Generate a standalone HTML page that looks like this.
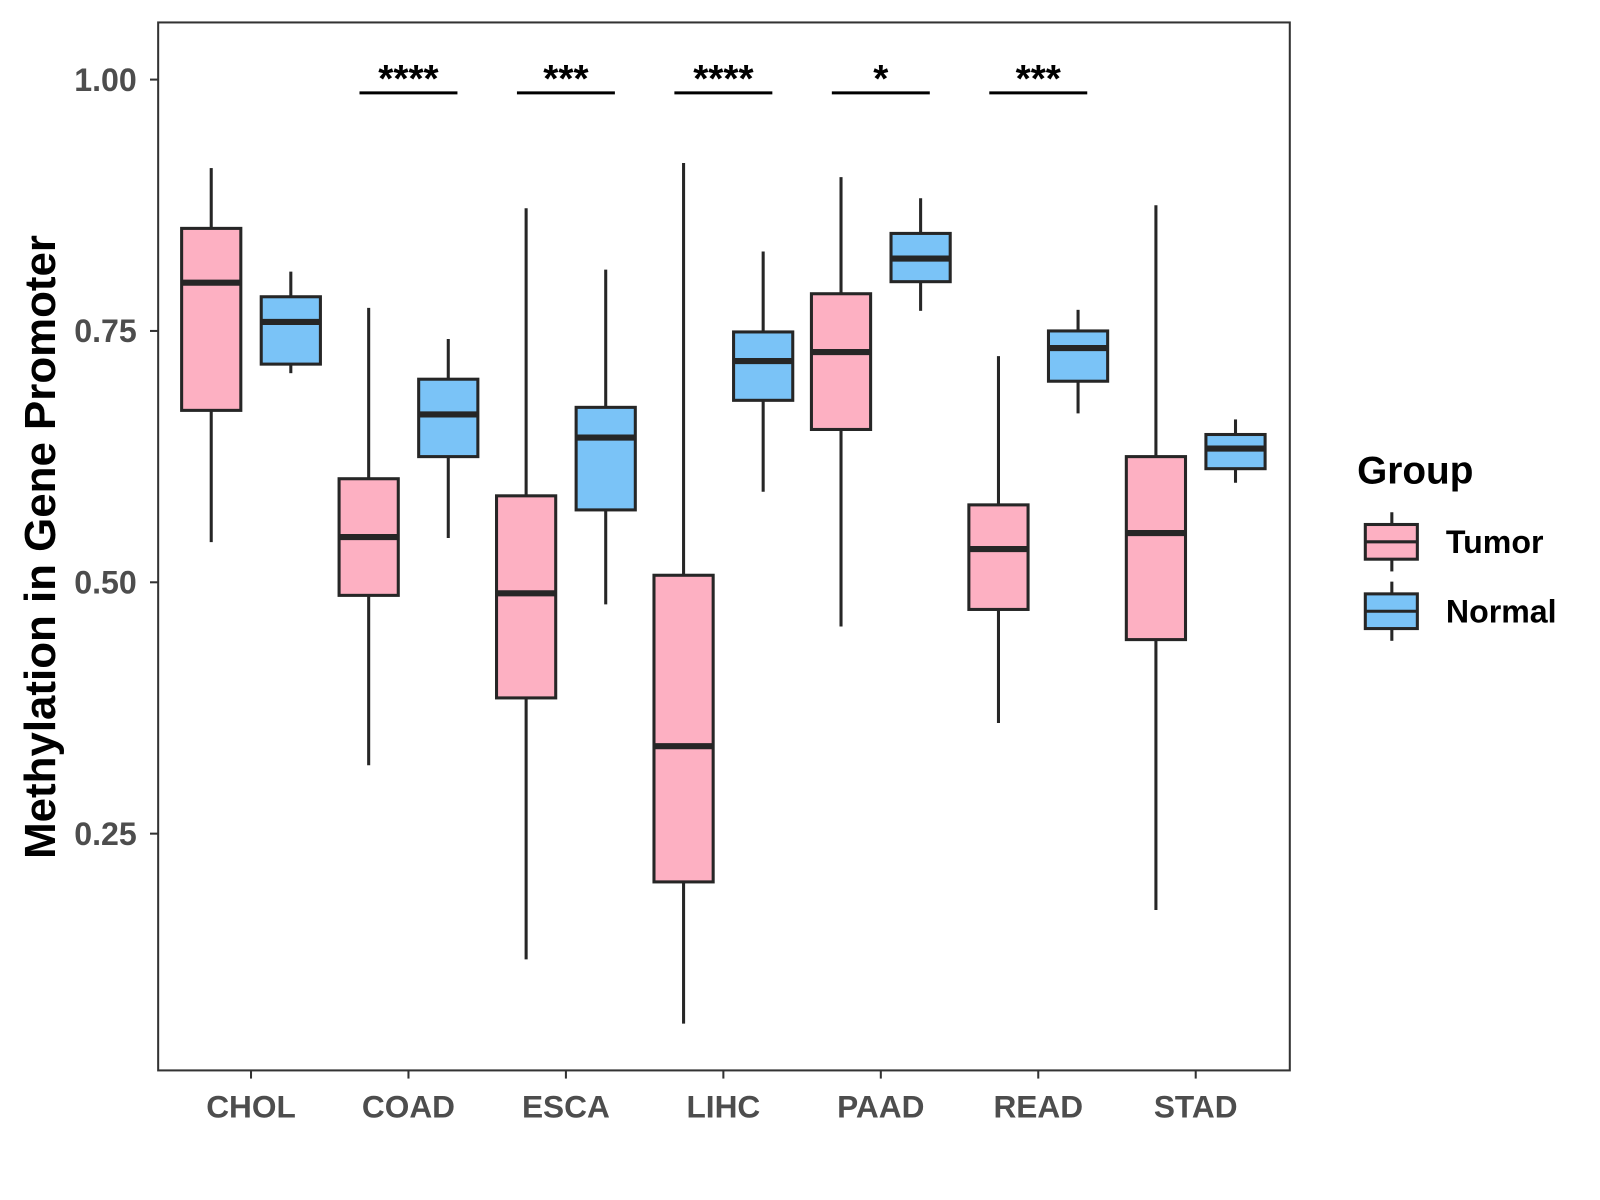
<!DOCTYPE html>
<html><head><meta charset="utf-8"><style>
html,body{margin:0;padding:0;background:#fff}
svg{display:block}
text{font-family:"Liberation Sans",Arial,sans-serif;font-weight:bold}
</style></head><body>
<svg id="chart" width="1600" height="1200" viewBox="0 0 1568 1176" xmlns="http://www.w3.org/2000/svg">
<rect x="155" y="22" width="1109" height="1027" fill="#fff" stroke="#333" stroke-width="2"/>
<g id="marks"></g>
<text transform="translate(54,536) rotate(-90)" text-anchor="middle" font-size="43" fill="#000">Methylation in Gene Promoter</text>
<text x="1330" y="474" font-size="38" fill="#000">Group</text>
</svg>
<script>
const categories=["CHOL","COAD","ESCA","LIHC","PAAD","READ","STAD"];
// [whiskerLow, q1, median, q3, whiskerHigh]
const tumorStats=[[0.540,0.671,0.798,0.852,0.912],[0.318,0.487,0.545,0.603,0.773],[0.125,0.385,0.489,0.586,0.872],[0.061,0.202,0.337,0.507,0.917],[0.456,0.652,0.729,0.787,0.903],[0.360,0.473,0.533,0.577,0.725],[0.174,0.443,0.549,0.625,0.875]];
const normalStats=[[0.708,0.717,0.759,0.784,0.809],[0.544,0.625,0.667,0.702,0.742],[0.478,0.572,0.644,0.674,0.811],[0.590,0.681,0.720,0.749,0.829],[0.770,0.799,0.822,0.847,0.882],[0.668,0.700,0.733,0.750,0.771],[0.599,0.613,0.633,0.647,0.662]];
const signif=["","****","***","****","*","***",""];
const yTicks=[0.25,0.50,0.75,1.00];
const yTickLabels=["0.25","0.50","0.75","1.00"];
const groups=["Tumor","Normal"];
const colors=["#FDB0C2","#7AC3F7"];

const NS="http://www.w3.org/2000/svg";
const y=v=>78+(1-v)*985.3;
const x=i=>246+i*154.3;
const svg=document.getElementById('chart');
const g=document.getElementById('marks');
function mk(tag,attrs,parent){const e=document.createElementNS(NS,tag);for(const k in attrs)e.setAttribute(k,attrs[k]);(parent||g).appendChild(e);return e;}

yTicks.forEach((v,i)=>{
  const t=mk('line',{x1:147,x2:155,y1:y(v),y2:y(v),stroke:'#333','stroke-width':2});
  
  
  const l=mk('text',{x:134,y:y(v)+11,'text-anchor':'end','font-size':31.5,fill:'#4d4d4d'});
  l.textContent=yTickLabels[i];
  
  
});
categories.forEach((c,i)=>{
  const t=mk('line',{x1:x(i),x2:x(i),y1:1049,y2:1057,stroke:'#333','stroke-width':2});
  
  
  const l=mk('text',{x:x(i),y:1095,'text-anchor':'middle','font-size':31,fill:'#4d4d4d'});
  l.textContent=c;
  
  
});
function box(cx,s,col,name){
  const bg=mk('g',{});
  
  
  mk('line',{x1:cx,x2:cx,y1:y(s[4]),y2:y(s[3]),stroke:'#262626','stroke-width':3},bg);
  mk('line',{x1:cx,x2:cx,y1:y(s[1]),y2:y(s[0]),stroke:'#262626','stroke-width':3},bg);
  mk('rect',{x:cx-29,y:y(s[3]),width:58,height:y(s[1])-y(s[3]),fill:col,stroke:'#262626','stroke-width':3},bg);
  mk('line',{x1:cx-29,x2:cx+29,y1:y(s[2]),y2:y(s[2]),stroke:'#262626','stroke-width':6},bg);
}
categories.forEach((c,i)=>{
  box(x(i)-39,tumorStats[i],colors[0],'box-tumor-'+c.toLowerCase());
  box(x(i)+39,normalStats[i],colors[1],'box-normal-'+c.toLowerCase());
  if(signif[i]){
    const b=mk('line',{x1:x(i)-48,x2:x(i)+48,y1:91,y2:91,stroke:'#000','stroke-width':3});
    
    
    const s=mk('text',{x:x(i),y:90,'text-anchor':'middle','font-size':38,fill:'#000'});
    s.textContent=signif[i];
    
    
  }
});
groups.forEach((gr,i)=>{
  const cy=531+i*68;
  const lg=mk('g',{},svg);
  
  
  mk('line',{x1:1364,x2:1364,y1:cy-29,y2:cy+29,stroke:'#262626','stroke-width':3},lg);
  mk('rect',{x:1338,y:cy-17,width:51,height:34,fill:colors[i],stroke:'#262626','stroke-width':3},lg);
  mk('line',{x1:1338,x2:1389,y1:cy,y2:cy,stroke:'#262626','stroke-width':3},lg);
  const t=mk('text',{x:1417,y:cy+11,'font-size':31.5,fill:'#000'},lg);
  t.textContent=gr;
});
</script>
</body></html>
